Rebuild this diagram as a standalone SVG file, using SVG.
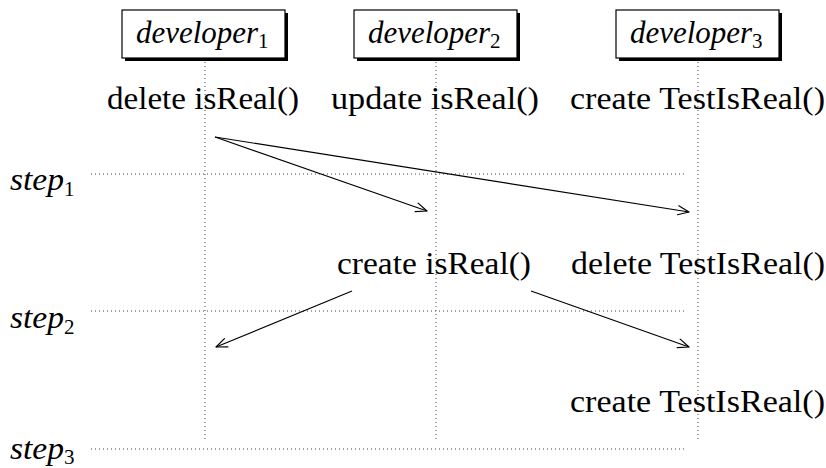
<svg xmlns="http://www.w3.org/2000/svg" width="826" height="468" viewBox="0 0 826 468">
  <style>
    .bg { fill: #ffffff; }
    .box { fill: #ffffff; stroke: #000000; stroke-width: 1.2; }
    .shadow { fill: #000000; }
    .life { stroke: #444444; stroke-width: 1; stroke-dasharray: 1 3; fill: none; }
    .step { stroke: #444444; stroke-width: 1; stroke-dasharray: 1 3; fill: none; }
    .msg { stroke: #000000; stroke-width: 1.2; fill: none; marker-end: url(#open); }
    .t { font-family: "Liberation Serif", "DejaVu Serif", "Times New Roman", serif; font-size: 31px; fill: #000000; }
    .it { font-family: "Liberation Serif", "DejaVu Serif", "Times New Roman", serif; font-style: italic; font-size: 31px; fill: #000000; }
    .sub { font-style: normal; font-size: 21px; }
  </style>
  <defs>
    <marker id="open" markerUnits="userSpaceOnUse" markerWidth="16" markerHeight="14" refX="0" refY="0" viewBox="-13 -7 16 14" orient="auto" overflow="visible">
      <path d="M -11 -4.5 L 0 0 L -11 4.5" fill="none" stroke="#000000" stroke-width="1.2" stroke-linecap="round" stroke-linejoin="round"/>
    </marker>
  </defs>

  <rect class="bg" x="0" y="0" width="826" height="468"/>

  <!-- lifelines -->
  <g id="lifelines">
    <line class="life" x1="205" y1="62" x2="205" y2="442"/>
    <line class="life" x1="436" y1="62" x2="436" y2="442"/>
    <line class="life" x1="698" y1="62" x2="698" y2="442"/>
  </g>

  <!-- step separators -->
  <g id="steps">
    <line class="step" x1="91" y1="174" x2="687" y2="174"/>
    <line class="step" x1="91" y1="311" x2="687" y2="311"/>
    <line class="step" x1="91" y1="449" x2="687" y2="449"/>
    <text class="it" x="10" y="190"><tspan textLength="54" lengthAdjust="spacingAndGlyphs">step</tspan><tspan class="sub" dy="6">1</tspan></text>
    <text class="it" x="10" y="328"><tspan textLength="54" lengthAdjust="spacingAndGlyphs">step</tspan><tspan class="sub" dy="6">2</tspan></text>
    <text class="it" x="10" y="459"><tspan textLength="54" lengthAdjust="spacingAndGlyphs">step</tspan><tspan class="sub" dy="5">3</tspan></text>
  </g>

  <!-- developer heads -->
  <g id="developer1">
    <rect class="shadow" x="125" y="13" width="163" height="48"/>
    <rect class="box" x="122" y="10" width="163" height="48"/>
    <text class="it" x="136" y="43"><tspan textLength="122" lengthAdjust="spacingAndGlyphs">developer</tspan><tspan class="sub" dy="5">1</tspan></text>
  </g>
  <g id="developer2">
    <rect class="shadow" x="357" y="13" width="163" height="48"/>
    <rect class="box" x="354" y="10" width="163" height="48"/>
    <text class="it" x="368" y="43"><tspan textLength="122" lengthAdjust="spacingAndGlyphs">developer</tspan><tspan class="sub" dy="5">2</tspan></text>
  </g>
  <g id="developer3">
    <rect class="shadow" x="619" y="13" width="163" height="48"/>
    <rect class="box" x="616" y="10" width="163" height="48"/>
    <text class="it" x="630" y="43"><tspan textLength="122" lengthAdjust="spacingAndGlyphs">developer</tspan><tspan class="sub" dy="5">3</tspan></text>
  </g>

  <!-- actions -->
  <g id="actions">
    <text class="t" x="107" y="109" textLength="192" lengthAdjust="spacingAndGlyphs">delete isReal()</text>
    <text class="t" x="331" y="109" textLength="208" lengthAdjust="spacingAndGlyphs">update isReal()</text>
    <text class="t" x="570" y="109" textLength="255" lengthAdjust="spacingAndGlyphs">create TestIsReal()</text>
    <text class="t" x="337" y="274" textLength="194" lengthAdjust="spacingAndGlyphs">create isReal()</text>
    <text class="t" x="571" y="274" textLength="254" lengthAdjust="spacingAndGlyphs">delete TestIsReal()</text>
    <text class="t" x="570" y="412" textLength="255" lengthAdjust="spacingAndGlyphs">create TestIsReal()</text>
  </g>

  <!-- message connectors -->
  <g id="connectors">
    <line class="msg" x1="215" y1="137" x2="427" y2="211"/>
    <line class="msg" x1="215" y1="137" x2="689" y2="212"/>
    <line class="msg" x1="352" y1="291" x2="216" y2="347"/>
    <line class="msg" x1="531" y1="291" x2="689" y2="347"/>
  </g>
</svg>
